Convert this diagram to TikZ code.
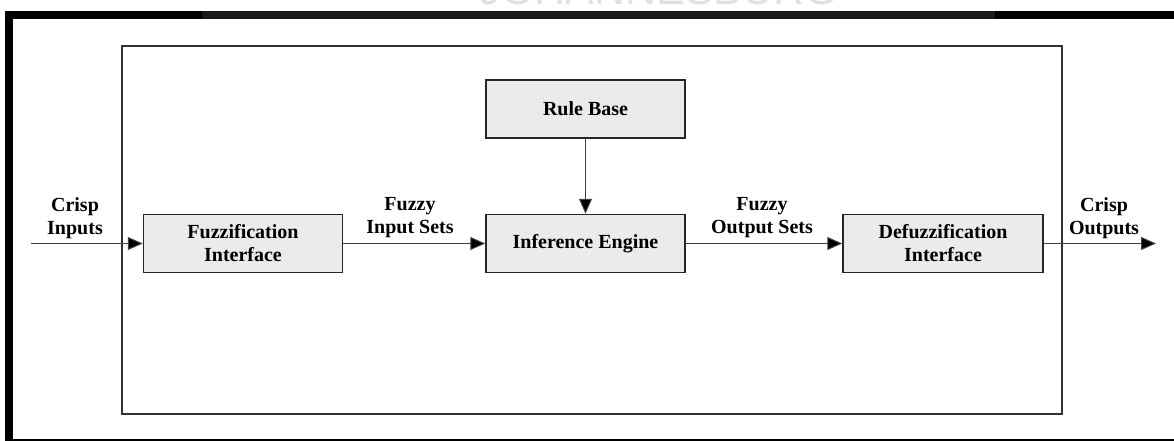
\documentclass[tikz,border=0pt]{standalone}
\usepackage{fontspec}
\setmainfont{Liberation Serif}
\newfontfamily\wmfont{Liberation Sans}
\usetikzlibrary{arrows.meta}
\begin{document}
\begin{tikzpicture}[x=1pt,y=-1pt,
  blockbox/.style={draw=black!85, line width=1.5pt, fill=black!8, align=center,
    inner sep=0pt, minimum width=199pt, minimum height=58pt,
    font=\fontsize{20}{23}\selectfont\bfseries},
  lbl/.style={align=center, inner sep=0pt, font=\fontsize{20}{23}\selectfont\bfseries},
  conn/.style={draw=black!75, line width=1pt, -{Triangle[length=15pt,width=13pt,fill=black]}}]
\useasboundingbox (0,0) rectangle (1174,441);
\begin{scope}
  \clip (0,0) rectangle (1174,441);
  \node[font=\wmfont\fontsize{43}{43}\selectfont, text=black!12, anchor=base] (wm) at (659,5) {JOHANNESBURG};
  \fill[black] (5,11) rectangle (1180,19);
  \fill[black!90] (202,11) rectangle (995,19);
  \fill[black] (5,11) rectangle (13,447);
  \fill[black] (5,439) rectangle (1180,447);
\end{scope}
\draw[line width=1.5pt, black!80] (122,46) rectangle (1062,414);
\node[blockbox] (fuzz) at (243,243.5) {Fuzzification\\Interface};
\node[blockbox] (inf) at (585.5,243.5) {Inference Engine};
\node[blockbox] (rule) at (585.5,109) {Rule Base};
\node[blockbox, minimum width=200pt] (defuzz) at (943,243.5) {Defuzzification\\Interface};
\coordinate (in) at (31,243.5);
\coordinate (out) at (1156,243.5);
\draw[conn] (in) -- (fuzz.west);
\draw[conn] (fuzz.east) -- (inf.west);
\draw[conn] (inf.east) -- (defuzz.west);
\draw[conn] (defuzz.east) -- (out);
\draw[conn] (rule.south) -- (inf.north);
\node[lbl] (l1) at (75,218) {Crisp\\Inputs};
\node[lbl] (l2) at (410,218) {Fuzzy\\Input Sets};
\node[lbl] (l3) at (762,218) {Fuzzy\\Output Sets};
\node[lbl] (l4) at (1104,218) {Crisp\\Outputs};
\end{tikzpicture}
\end{document}
